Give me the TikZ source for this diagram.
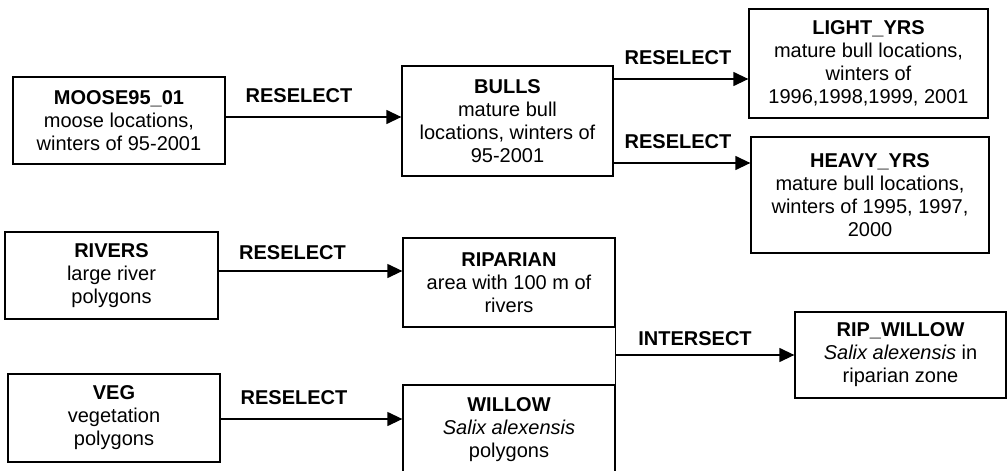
\documentclass[tikz,border=0pt]{standalone}
\usepackage{fontspec}
\setmainfont{Liberation Sans}
\usetikzlibrary{arrows.meta}
\tikzset{
  layer/.style={draw, line width=1.3pt, align=center, inner sep=0pt,
    font=\fontsize{20}{23}\selectfont},
  oplabel/.style={font=\fontsize{20}{23}\selectfont\bfseries, inner sep=0pt},
  arr/.style={line width=1.3pt, -{Triangle[length=15pt,width=14pt]}},
  link/.style={line width=1.3pt}
}
\begin{document}
\begin{tikzpicture}[x=1pt,y=-1pt]
\clip (0,0) rectangle (1007,471);
\fill[white] (0,0) rectangle (1007,471);

% data layers
\node[layer, minimum width=212pt, minimum height=87pt] (moose) at (119,120.5)
  {\textbf{MOOSE95\_01}\\moose locations,\\winters of 95-2001};
\node[layer, minimum width=211pt, minimum height=110pt] (bulls) at (507.5,121)
  {\textbf{BULLS}\\mature bull\\locations, winters of\\95-2001};
\node[layer, minimum width=239pt, minimum height=109pt] (light) at (868.5,63.5)
  {\textbf{LIGHT\_YRS}\\mature bull locations,\\winters of\\1996,1998,1999, 2001};
\node[layer, minimum width=238pt, minimum height=116pt] (heavy) at (870,195)
  {\textbf{HEAVY\_YRS}\\mature bull locations,\\winters of 1995, 1997,\\2000};
\node[layer, minimum width=213pt, minimum height=87pt] (rivers) at (111.5,275.5)
  {\textbf{RIVERS}\\large river\\polygons};
\node[layer, minimum width=212pt, minimum height=88pt] (veg) at (114,418)
  {\textbf{VEG}\\vegetation\\polygons};
\node[layer, minimum width=212pt, minimum height=89pt] (riparian) at (509,282.5)
  {\textbf{RIPARIAN}\\area with 100 m of\\rivers};
\node[layer, minimum width=212pt, minimum height=89pt] (willow) at (509,429.5)
  {\textbf{WILLOW}\\\textit{Salix alexensis}\\polygons};
\node[layer, minimum width=211pt, minimum height=86pt] (ripwillow) at (900.5,355)
  {\textbf{RIP\_WILLOW}\\\textit{Salix alexensis} in\\riparian zone};

% operations
\draw[arr] (moose.east |- 0,117) -- (bulls.west |- 0,117);
\draw[arr] (bulls.east |- 0,79) -- (light.west |- 0,79);
\draw[arr] (bulls.east |- 0,163) -- (heavy.west |- 0,163);
\draw[arr] (rivers.east |- 0,271) -- (riparian.west |- 0,271);
\draw[arr] (veg.east |- 0,419) -- (willow.west |- 0,419);
\draw[link] (riparian.south east) -- (willow.north east);
\draw[arr] (riparian.east |- 0,355) -- (ripwillow.west |- 0,355);

% operation labels
\node[oplabel] (l1) at (299,96) {RESELECT};
\node[oplabel] (l2) at (678,58) {RESELECT};
\node[oplabel] (l3) at (678,142) {RESELECT};
\node[oplabel] (l4) at (292.5,253) {RESELECT};
\node[oplabel] (l5) at (294,398) {RESELECT};
\node[oplabel] (l6) at (695,339) {INTERSECT};
\end{tikzpicture}
\end{document}
